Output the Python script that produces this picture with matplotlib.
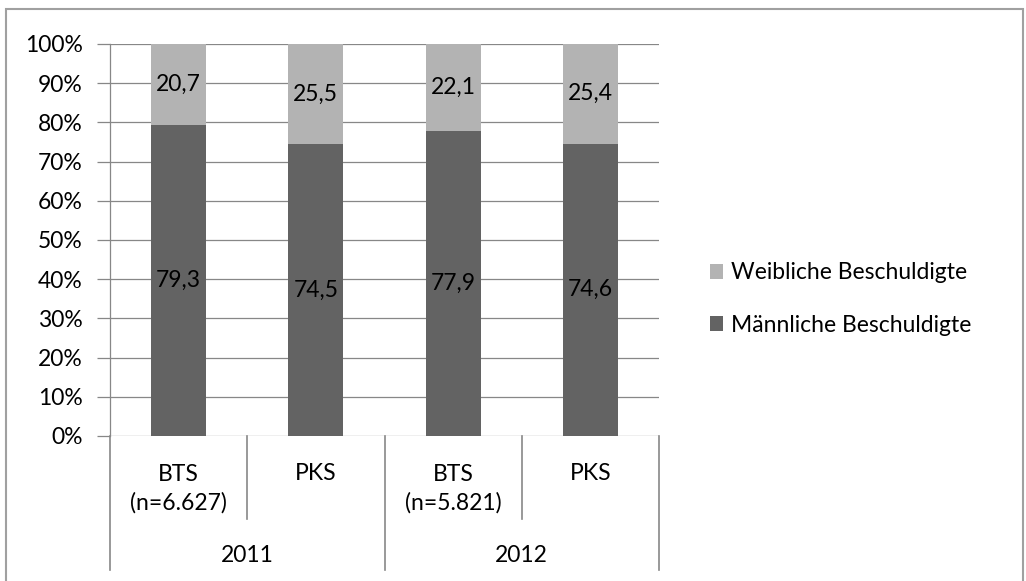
import matplotlib.pyplot as plt
from matplotlib.patches import Rectangle

# Daten
categories = ["BTS\n(n=6.627)", "PKS", "BTS\n(n=5.821)", "PKS"]
years = ["2011", "2012"]
maennlich = [79.3, 74.5, 77.9, 74.6]
weiblich = [20.7, 25.5, 22.1, 25.4]
yticks = list(range(0, 101, 10))

C_LIGHT = "#b3b3b3"
C_DARK = "#636363"
C_GRID = "#878787"
plt.rcParams["font.family"] = ["Lato", "DejaVu Sans"]
FS = 16.5

W, H = 1026, 581
fig = plt.figure(figsize=(W / 100, H / 100), dpi=100)
ax = fig.add_axes([110 / W, 1 - 436 / H, (659 - 110) / W, (436 - 44) / H])

x = list(range(len(categories)))
b1 = ax.bar(x, maennlich, width=0.4, color=C_DARK, label="Männliche Beschuldigte", zorder=3)
b2 = ax.bar(x, weiblich, width=0.4, bottom=maennlich, color=C_LIGHT,
            label="Weibliche Beschuldigte", zorder=3)
for rect, v in zip(b1, maennlich):
    ax.text(rect.get_x() + rect.get_width() / 2, v / 2, f"{v:.1f}".replace(".", ","),
            ha="center", va="center", fontsize=FS, zorder=4)
for rect, b, v in zip(b2, maennlich, weiblich):
    ax.text(rect.get_x() + rect.get_width() / 2, b + v / 2, f"{v:.1f}".replace(".", ","),
            ha="center", va="center", fontsize=FS, zorder=4)

ax.set_xlim(-0.5, len(categories) - 0.5)
ax.set_ylim(0, 100)
ax.set_yticks(yticks)
ax.set_yticklabels([f"{t}%" for t in yticks], fontsize=FS)
ax.tick_params(axis="y", length=9.5, width=0.9, color=C_GRID, pad=10)
ax.set_xticks([])
ax.yaxis.grid(True, color=C_GRID, linewidth=0.9, zorder=1)
for s in ["top", "right", "bottom"]:
    ax.spines[s].set_visible(False)
ax.spines["left"].set_color(C_GRID)
ax.spines["left"].set_linewidth(0.9)
ax.spines["left"].set_zorder(2)

# mehrstufige Kategorienachse
tr = ax.get_xaxis_transform()
px = 1 / 392
for i, lab in enumerate(categories):
    va = "center"
    ypos = -53 * px if "\n" in lab else -37 * px
    ax.text(i, ypos, lab, transform=tr, ha="center", va=va, fontsize=FS,
            linespacing=1.4)
for j, yr in enumerate(years):
    ax.text(2 * j + 0.5, -119 * px, yr, transform=tr, ha="center", va="center", fontsize=FS)
for k in range(len(categories) + 1):
    xs = k - 0.5
    y_end = -134 * px if k % 2 == 0 else -83 * px
    ax.plot([xs, xs], [0, y_end], transform=tr, color=C_GRID, lw=1.2, clip_on=False)

h, l = ax.get_legend_handles_labels()
fig.legend(h[::-1], l[::-1], loc="center left", bbox_to_anchor=(689 / W, 1 - 299 / H),
           frameon=False, fontsize=FS, handlelength=0.6, handleheight=0.6,
           handletextpad=0.35, labelspacing=1.36)

fig.patches.append(Rectangle((6 / W, -0.1), (1023 - 6) / W, 1.1 - 8.5 / H,
                             transform=fig.transFigure, fill=False,
                             edgecolor="#a0a0a0", lw=1.5))

fig.savefig("out.png", dpi=100)
